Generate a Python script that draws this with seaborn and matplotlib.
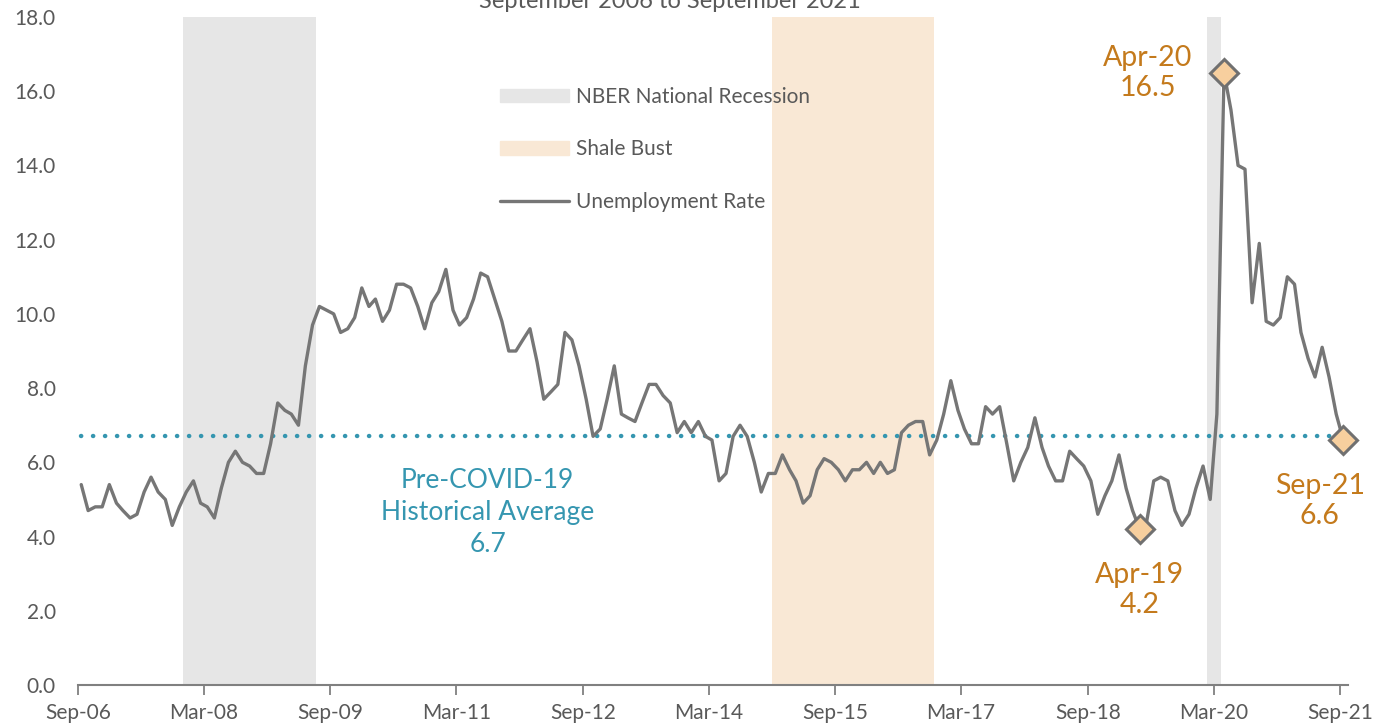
import pandas as pd
import matplotlib.pyplot as plt
from matplotlib.patches import Patch
from matplotlib.lines import Line2D
import seaborn as sns

# monthly unemployment rate, Sep 2006 .. Sep 2021
start = '2006-09-01'
rate = [
    5.4, 4.7, 4.8, 4.8, 5.4, 4.9, 4.7, 4.5, 4.6, 5.2, 5.6, 5.2,
    5.0, 4.3, 4.8, 5.2, 5.5, 4.9, 4.8, 4.5, 5.3, 6.0, 6.3, 6.0,
    5.9, 5.7, 5.7, 6.5, 7.6, 7.4, 7.3, 7.0, 8.6, 9.7, 10.2, 10.1,
    10.0, 9.5, 9.6, 9.9, 10.7, 10.2, 10.4, 9.8, 10.1, 10.8, 10.8, 10.7,
    10.2, 9.6, 10.3, 10.6, 11.2, 10.1, 9.7, 9.9, 10.4, 11.1, 11.0, 10.4,
    9.8, 9.0, 9.0, 9.3, 9.6, 8.7, 7.7, 7.9, 8.1, 9.5, 9.3, 8.6,
    7.7, 6.7, 6.9, 7.7, 8.6, 7.3, 7.2, 7.1, 7.6, 8.1, 8.1, 7.8,
    7.6, 6.8, 7.1, 6.8, 7.1, 6.7, 6.6, 5.5, 5.7, 6.7, 7.0, 6.7,
    6.0, 5.2, 5.7, 5.7, 6.2, 5.8, 5.5, 4.9, 5.1, 5.8, 6.1, 6.0,
    5.8, 5.5, 5.8, 5.8, 6.0, 5.7, 6.0, 5.7, 5.8, 6.8, 7.0, 7.1,
    7.1, 6.2, 6.6, 7.3, 8.2, 7.4, 6.9, 6.5, 6.5, 7.5, 7.3, 7.5,
    6.5, 5.5, 6.0, 6.4, 7.2, 6.4, 5.9, 5.5, 5.5, 6.3, 6.1, 5.9,
    5.5, 4.6, 5.1, 5.5, 6.2, 5.3, 4.7, 4.2, 4.4, 5.5, 5.6, 5.5,
    4.7, 4.3, 4.6, 5.3, 5.9, 5.0, 7.3, 16.5, 15.5, 14.0, 13.9, 10.3,
    11.9, 9.8, 9.7, 9.9, 11.0, 10.8, 9.5, 8.8, 8.3, 9.1, 8.3, 7.3,
    6.6,
]
recessions = [('2007-12-01', '2009-07-01'), ('2020-02-01', '2020-04-01')]
shale_bust = [('2014-12-01', '2016-11-01')]
pre_covid_avg = 6.7
callouts = ['2019-04-01', '2020-04-01', '2021-09-01']
tick_labels = ['Sep-06', 'Mar-08', 'Sep-09', 'Mar-11', 'Sep-12', 'Mar-14',
               'Sep-15', 'Mar-17', 'Sep-18', 'Mar-20', 'Sep-21']

months = pd.date_range(start, periods=len(rate), freq='MS')
df = pd.DataFrame({'month': months, 'date': months + pd.Timedelta(days=14), 'rate': rate})

sns.set_theme(style='white')
plt.rcParams['font.family'] = ['Lato', 'DejaVu Sans']

GREY_TXT = '#595959'
ORANGE = '#C47A1C'
TEAL = '#3596B0'

fig = plt.figure(figsize=(13.98, 7.28), dpi=100)
ax = fig.add_axes([0.0558, 0.0591, 0.9084, 0.9175])

for a, b in recessions:
    ax.axvspan(pd.Timestamp(a), pd.Timestamp(b), color='#E6E6E6', lw=0, zorder=0)
for a, b in shale_bust:
    ax.axvspan(pd.Timestamp(a), pd.Timestamp(b), color='#F9E8D5', lw=0, zorder=0)

ax.plot([df['date'].iloc[0], df['date'].iloc[-1]], [pre_covid_avg, pre_covid_avg],
        color=TEAL, lw=3.2, linestyle=(0, (0.05, 2.65)), dash_capstyle='round', zorder=2)

sns.lineplot(data=df, x='date', y='rate', color='#767676', lw=2.4, ax=ax,
             legend=False, zorder=3)

# highlighted points
hl = df[df['month'].isin(pd.to_datetime(callouts))]
ax.plot(hl['date'], hl['rate'], ls='none', marker='D', ms=14, mfc='#F7CF9E',
        mec='#707070', mew=2.2, zorder=4, clip_on=False)

offsets = [(0, -44), (-55, 0), (-17, -44)]
for (_, r), off in zip(hl.iterrows(), offsets):
    ax.annotate(f"{r['month']:%b-%y}\n{r['rate']:.1f}", (r['date'], r['rate']),
                xytext=off, textcoords='offset points', ha='center', va='center',
                fontsize=20.5, color=ORANGE, linespacing=1.2)

ax.text(pd.Timestamp('2011-07-15'), 4.64, f'Pre-COVID-19\nHistorical Average\n{pre_covid_avg}',
        ha='center', va='center', fontsize=19, color=TEAL, linespacing=1.36)

ax.set_xlim(pd.Timestamp('2006-09-01'), pd.Timestamp('2021-10-05'))
ax.set_ylim(0, 18)
ax.set_xticks(pd.date_range(start, periods=len(tick_labels), freq='18MS'))
ax.set_xticklabels(tick_labels)
ax.set_yticks(range(0, 19, 2))
ax.set_yticklabels([f'{v:.1f}' for v in range(0, 19, 2)])
ax.set_xlabel('')
ax.set_ylabel('')
ax.tick_params(axis='x', length=7, width=1.3, color='#808080', pad=6,
               labelsize=15, labelcolor=GREY_TXT, bottom=True)
ax.tick_params(axis='y', length=0, pad=16, labelsize=15, labelcolor=GREY_TXT)
for s in ['left', 'top', 'right']:
    ax.spines[s].set_visible(False)
ax.spines['bottom'].set_color('#808080')
ax.spines['bottom'].set_linewidth(1.5)

handles = [Patch(color='#E6E6E6', label='NBER National Recession'),
           Patch(color='#F9E8D5', label='Shale Bust'),
           Line2D([], [], color='#767676', lw=2.4, label='Unemployment Rate')]
leg = fig.legend(handles=handles, loc='upper left', bbox_to_anchor=(500 / 1398, 641 / 728),
                 frameon=False, fontsize=15, handlelength=3.3, handleheight=0.6,
                 handletextpad=0.35, labelspacing=1.55, borderpad=0, borderaxespad=0)
for t in leg.get_texts():
    t.set_color(GREY_TXT)

fig.text(0.479, 1 - 8 / 728, 'September 2006 to September 2021', ha='center',
         va='baseline', fontsize=17, color=GREY_TXT)

fig.savefig('out.png', dpi=100)
